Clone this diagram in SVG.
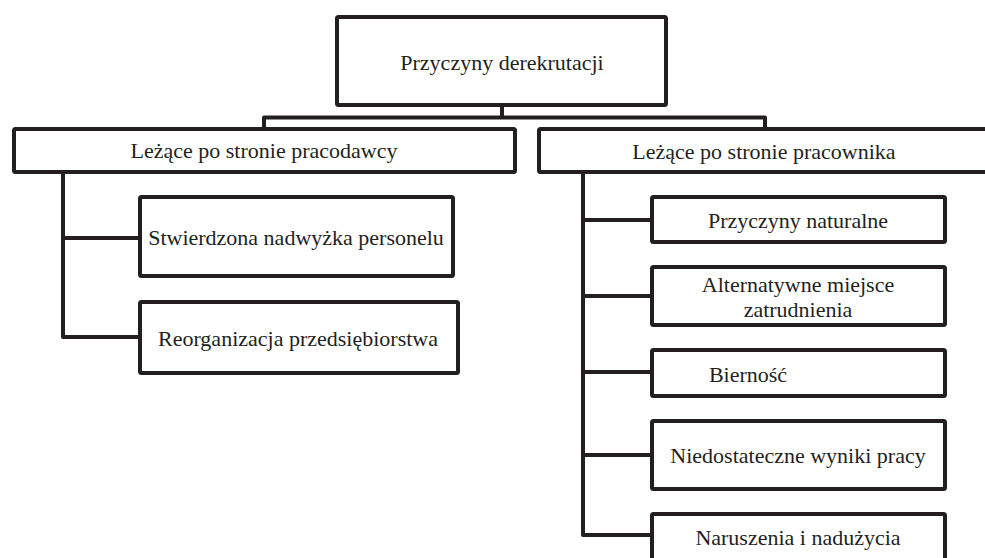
<svg xmlns="http://www.w3.org/2000/svg" width="985" height="558" viewBox="0 0 985 558">
<style>
.box{fill:#fff;stroke:#231f20;stroke-width:4;stroke-linejoin:round}
.ln{fill:none;stroke:#231f20;stroke-width:4;stroke-linejoin:round;stroke-linecap:square}
text{font-family:"Liberation Serif","Times New Roman",serif;font-size:22px;fill:#231f20;text-anchor:middle}
</style>
<rect width="985" height="558" fill="#fff"/>
<g id="connectors">
<path class="ln" d="M502 107V117.5M264 129V117.5H765V129"/>
<path class="ln" d="M63 172V337H140M63 238H140"/>
<path class="ln" d="M583 172V535H652M583 220H652M583 296H652M583 372H652M583 455H652"/>
</g>
<g id="root"><rect class="box" x="337" y="17" width="329" height="88" rx="1.5"/><text x="502" y="70">Przyczyny derekrutacji</text></g>
<g id="employer"><rect class="box" x="14" y="129" width="501" height="43" rx="1.5"/><text x="264" y="158">Leżące po stronie pracodawcy</text></g>
<g id="employee"><rect class="box" x="539" y="129" width="460" height="43" rx="1.5"/><text x="764" y="159">Leżące po stronie pracownika</text></g>
<g id="surplus"><rect class="box" x="140" y="197" width="313" height="79" rx="1.5"/><text x="296" y="245">Stwierdzona nadwyżka personelu</text></g>
<g id="reorg"><rect class="box" x="140" y="302" width="318" height="71" rx="1.5"/><text x="298" y="346">Reorganizacja przedsiębiorstwa</text></g>
<g id="natural"><rect class="box" x="652" y="197" width="293" height="45" rx="1.5"/><text x="798" y="228">Przyczyny naturalne</text></g>
<g id="alternative"><rect class="box" x="652" y="267" width="293" height="58" rx="1.5"/><text x="798" y="292">Alternatywne miejsce</text><text x="798" y="317">zatrudnienia</text></g>
<g id="passivity"><rect class="box" x="652" y="350" width="293" height="46" rx="1.5"/><text x="748" y="382">Bierność</text></g>
<g id="results"><rect class="box" x="652" y="421" width="293" height="68" rx="1.5"/><text x="798" y="463">Niedostateczne wyniki pracy</text></g>
<g id="violations"><rect class="box" x="652" y="514" width="293" height="60" rx="1.5"/><text x="798" y="545">Naruszenia i nadużycia</text></g>
</svg>
